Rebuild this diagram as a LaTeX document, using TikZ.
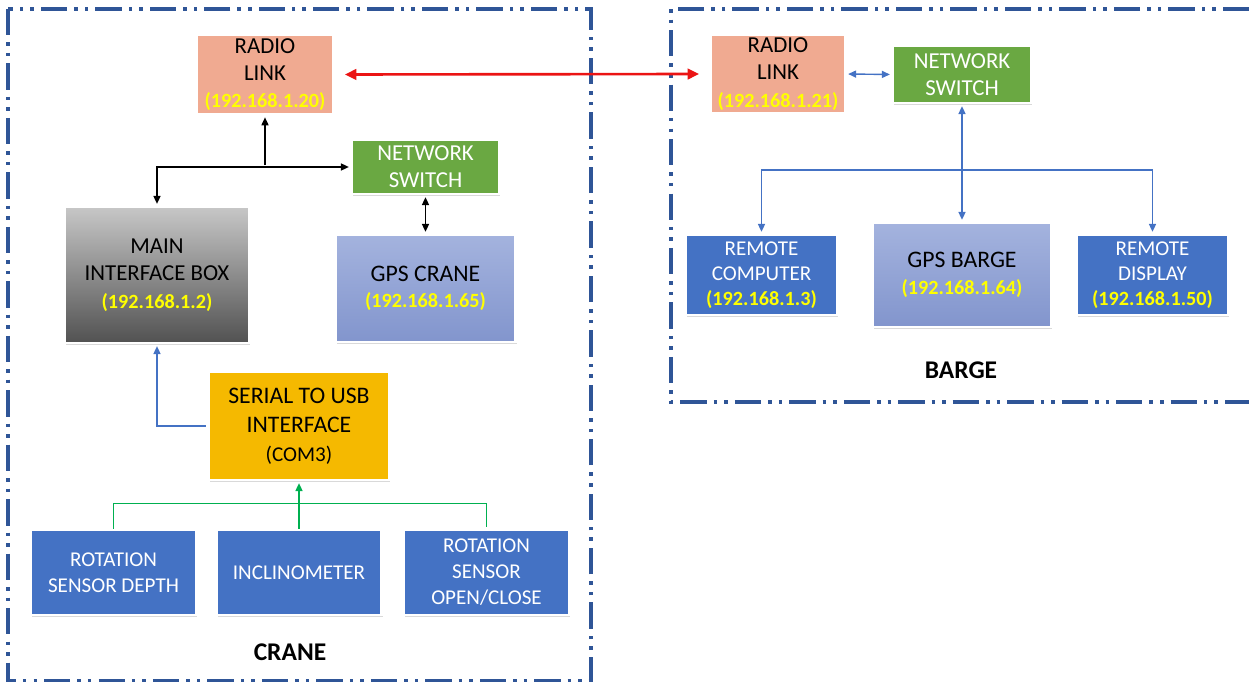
\documentclass[tikz,border=0pt]{standalone}
\usepackage{fontspec}
\setmainfont{Carlito}
\usetikzlibrary{arrows.meta,shadows}

\definecolor{frameblue}{RGB}{47,85,151}
\definecolor{radiofill}{RGB}{240,170,145}
\definecolor{switchfill}{RGB}{106,168,66}
\definecolor{gpstop}{RGB}{164,179,222}
\definecolor{gpsbot}{RGB}{130,149,205}
\definecolor{unitblue}{RGB}{68,114,196}
\definecolor{serialfill}{RGB}{245,185,0}
\definecolor{ipyellow}{RGB}{255,255,0}
\definecolor{linkgreen}{RGB}{0,176,80}
\definecolor{linkred}{RGB}{235,20,20}

\newcommand{\ipaddr}[1]{{\fontsize{11.5}{13}\selectfont\bfseries\color{ipyellow}(#1)}}

\tikzset{
    >={Triangle[length=4.5pt,width=4pt]},
    box/.style={rectangle, draw=white, line width=1.6pt, align=center, inner sep=2pt,
        drop shadow={opacity=0.3, shadow xshift=0.8pt, shadow yshift=-1pt},
        font=\fontsize{13}{15.5}\selectfont},
    radio/.style={box, fill=radiofill, minimum width=2.72cm, minimum height=1.58cm},
    switch/.style={box, fill=switchfill, text=white, minimum width=2.94cm, minimum height=1.08cm},
    mainunit/.style={box, top color=black!22, bottom color=black!68, minimum width=3.68cm, minimum height=2.72cm},
    gps/.style={box, top color=gpstop, bottom color=gpsbot, font=\fontsize{13.5}{15}\selectfont,
        minimum width=3.6cm, minimum height=2.14cm},
    serial/.style={box, fill=serialfill, font=\fontsize{13.5}{16.5}\selectfont,
        minimum width=3.6cm, minimum height=2.16cm},
    sensor/.style={box, fill=unitblue, text=white, font=\fontsize{12}{14.8}\selectfont,
        minimum width=3.3cm, minimum height=1.7cm},
    remote/.style={box, fill=unitblue, text=white, font=\fontsize{12}{14.2}\selectfont,
        minimum width=3.02cm, minimum height=1.6cm},
    frame/.style={draw=frameblue, line width=2.1pt,
        dash pattern=on 15pt off 4pt on 2pt off 4pt on 2pt off 4pt},
    title/.style={font=\fontsize{14.5}{16}\selectfont\bfseries},
    blackline/.style={draw=black, line width=0.8pt, shorten >=1pt, shorten <=1pt},
    blueline/.style={draw=unitblue, line width=0.8pt, shorten >=1pt, shorten <=1pt},
    greenline/.style={draw=linkgreen, line width=0.8pt, shorten >=1pt},
    redline/.style={draw=linkred, line width=1.5pt, >={Triangle[length=6.5pt,width=6pt]}}
}

\begin{document}
\begin{tikzpicture}[x=0.02cm,y=-0.02cm]
    \useasboundingbox (0,0) rectangle (1249,682);

    \draw[frame] (8,9) rectangle (591,681);
    \draw[frame] (1249,9) -| (671,402) -- (1249,402);

    \node[radio] (radA) at (265,74.5) {RADIO\\LINK\\\ipaddr{192.168.1.20}};
    \node[switch] (nsA) at (425.5,167) {NETWORK\\SWITCH};
    \node[mainunit] (mib) at (157,275) {MAIN\\INTERFACE BOX\\\ipaddr{192.168.1.2}};
    \node[gps] (gpsA) at (425.5,288.5) {GPS CRANE\\\ipaddr{192.168.1.65}};
    \node[serial] (usb) at (299,426) {SERIAL TO USB\\INTERFACE\\{\fontsize{12}{14}\selectfont(COM3)}};
    \node[sensor] (rotd) at (113.5,572.5) {ROTATION\\SENSOR DEPTH};
    \node[sensor] (incl) at (299,572.5) {INCLINOMETER};
    \node[sensor] (roto) at (486.5,572.5) {ROTATION\\SENSOR\\OPEN/CLOSE};
    \node[title] (crane) at (290,652) {CRANE};

    \node[radio, minimum width=2.68cm, minimum height=1.56cm] (radB) at (778,74) {RADIO\\LINK\\\ipaddr{192.168.1.21}};
    \node[switch, minimum width=2.76cm, minimum height=1.14cm] (nsB) at (962,74.5) {NETWORK\\SWITCH};
    \node[remote] (rpc) at (761.5,275) {REMOTE\\COMPUTER\\\ipaddr{192.168.1.3}};
    \node[gps, minimum width=3.56cm, minimum height=2.08cm] (gpsB) at (962,275) {GPS BARGE\\\ipaddr{192.168.1.64}};
    \node[remote] (rdisp) at (1152.5,275) {REMOTE\\DISPLAY\\\ipaddr{192.168.1.50}};
    \node[title] (barge) at (961,370) {BARGE};

    \coordinate (bj) at (962,170);

    \draw[blackline,<->] (mib.north) |- (nsA.west);
    \draw[blackline,->] (radA.south |- nsA.west) -- (radA.south);
    \draw[blackline,<->] (nsA.south) -- (gpsA.north);
    \draw[blueline,->] (usb.west) -| (mib.south);
    \draw[greenline,->] (incl.north) -- (usb.south);
    \draw[greenline] (rotd.north) -- ++(0,-25) -| (roto.north);

    \draw[redline,<->,shorten <=6pt,shorten >=6pt] (radA.east) -- (radB.west);

    \draw[blueline,<->] (radB.east) -- (nsB.west);
    \draw[blueline,<->] (nsB.south) -- (gpsB.north);
    \draw[blueline,->,shorten <=0pt] (bj) -| (rpc.north);
    \draw[blueline,->,shorten <=0pt] (bj) -| (rdisp.north);
\end{tikzpicture}
\end{document}
